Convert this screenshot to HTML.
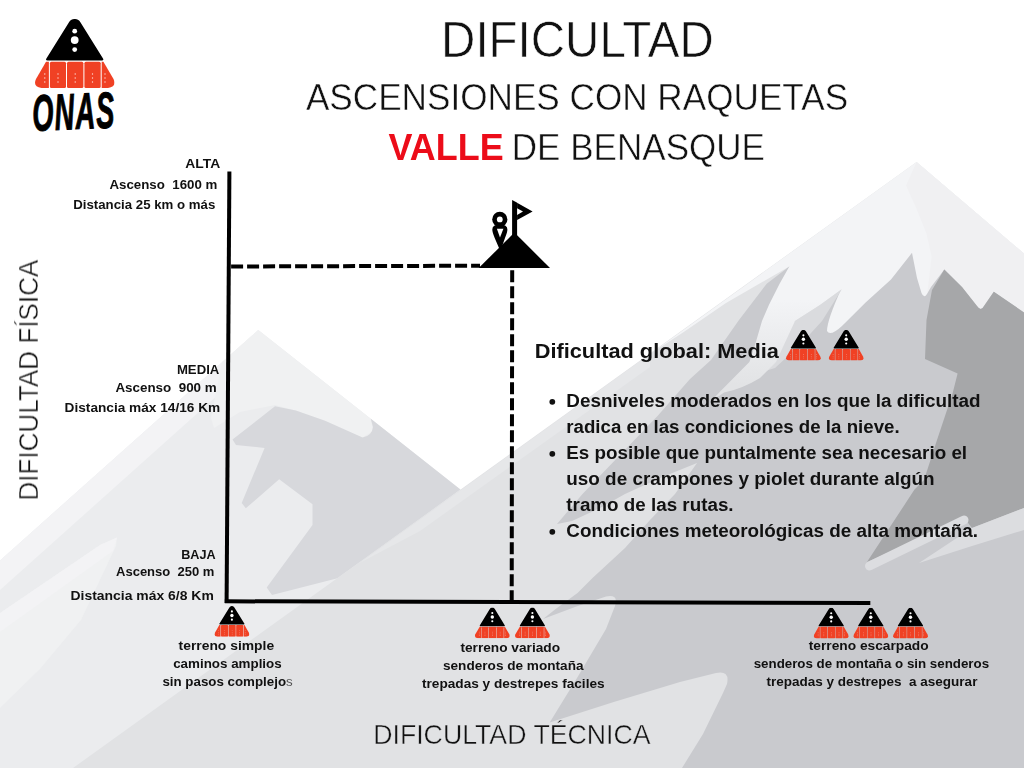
<!DOCTYPE html>
<html lang="es"><head><meta charset="utf-8"><title>Dificultad - Ascensiones con raquetas - Valle de Benasque</title>
<style>
html,body{margin:0;padding:0;background:#fff;}
body{width:1024px;height:768px;overflow:hidden;position:relative;font-family:"Liberation Sans",sans-serif;}
svg{position:absolute;left:0;top:0;display:block}
svg text{font-family:"Liberation Sans",sans-serif;}
</style></head><body>
<svg width="1024" height="768" viewBox="0 0 1024 768">
<defs>
<symbol id="ic" viewBox="34.8 19 79.8 68.9" preserveAspectRatio="none">
  <path d="M69 22.2 A6.66 6.66 0 0 1 80.4 22.2 L103 58.4 Q104.2 60.6 101.8 60.6 L47.6 60.6 Q45.2 60.6 46.4 58.4 Z" fill="#000"/>
  <circle cx="74.7" cy="31.2" r="2.4" fill="#fff"/><circle cx="74.7" cy="40.1" r="3.9" fill="#fff"/><circle cx="74.7" cy="49.6" r="2.4" fill="#fff"/>
  <path d="M46 61.8 L48.9 61.8 L48.9 87.9 L41.5 87.9 Q32.5 86.5 36 79 Z" fill="#f04124"/>
  <rect x="49.9" y="61.8" width="16.1" height="26.1" rx="1.5" fill="#f04124"/>
  <rect x="67" y="61.8" width="16.4" height="26.1" rx="1.5" fill="#f04124"/>
  <rect x="84.4" y="61.8" width="16.3" height="26.1" rx="1.5" fill="#f04124"/>
  <path d="M103.4 61.8 L101.7 61.8 L101.7 87.9 L108 87.9 Q117 86.5 113.5 79 Z" fill="#f04124"/>
  <g fill="#fff" opacity=".8">
   <circle cx="44.8" cy="74" r=".7"/><circle cx="44.8" cy="78" r=".7"/><circle cx="44.8" cy="82" r=".7"/>
   <circle cx="58" cy="74" r=".7"/><circle cx="58" cy="78" r=".7"/><circle cx="58" cy="82" r=".7"/>
   <circle cx="75.2" cy="74" r=".7"/><circle cx="75.2" cy="78" r=".7"/><circle cx="75.2" cy="82" r=".7"/>
   <circle cx="92.5" cy="74" r=".7"/><circle cx="92.5" cy="78" r=".7"/><circle cx="92.5" cy="82" r=".7"/>
   <circle cx="105" cy="74" r=".7"/><circle cx="105" cy="78" r=".7"/><circle cx="105" cy="82" r=".7"/>
  </g>
</symbol></defs>
<!-- background mountains -->
<g id="bg">
<!-- left mountain -->
<polygon points="258.3,330 0,560.4 0,768 500,768 500,521 460.4,489.6" fill="#ebecee"/>
<polygon points="258.3,330 0,560.4 0,590 248,368 262,347" fill="#f3f3f5"/>
<polygon points="258.3,330 370.8,418.7 373,431 362.5,437.5 325,420.8 295.8,410.4 275,405 240,412 214,428 211,418 222,362" fill="#f0f1f2"/>
<path d="M275,406.3 L295.8,410.4 L325,420.8 L362.5,437.5 Q372,436 373,427 L370.8,418.75 L460.4,489.6 L337.5,578.3 L272,595 L266.7,587.5 L312.5,525 L312.5,504.2 L279.2,479.2 L245.8,508.3 L241.7,503 L264.6,447.9 L236,445 L232.5,439.6 Z" fill="#d7d8dc"/>
<polygon points="0,613 100,545 117,537.5 116,546 81,620 40,669 0,708" fill="#f0f1f2"/>
<polygon points="0,613 100,545 117,537.5 113,551 0,632" fill="#f3f3f5"/>
<!-- big mountain: light base -->
<polygon points="916.6,162 1024,253.5 1024,768 73,768" fill="#e1e2e4"/>
<polygon points="650,354 360,562.8 420,531 650,367" fill="#e6e7e9"/>
<!-- snow cap + highlight along slope -->
<path d="M916.6,162 L1024,253.5 L1024,340 L815,350 L789.3,266.5 L726,303 L683,332.5 L650,354 Z" fill="#f3f4f6"/>
<path d="M916.6,162 L906,185.5 L916.4,208.4 L926.5,233.8 L931.6,256.7 L926.5,300 L1024,330 L1024,253.5 Z" fill="#f0f0f2"/>
<!-- main grey body -->
<path d="M789.3,266.5 L766.7,283.7 L738.8,320.2 L711,360 L690,379 L657.5,416 L632.5,442 L607.5,468 L582.5,494 L557,524
 L572,521 L600,508 L625,494 L660,478 L697,463 L675,494 L650,520 L625,548 L592.5,578 L577.5,593 L557,608 L543,619
 L575,607 L600,598.5 L606,596.5 Q619,594 615,606 L606,629 L577,678 L549.7,722.5 L613.75,702 L680,682 L716,673 Q730,670 727,684 L723,693 L703,734 L682,768
 L1024,768 L1024,312.5 L993.8,291.7 L984,306 Q981,312 977,306 L962,287 L944.3,269.4 L931,287 L927,294 Q924,299 921.5,293 L917,278 L912,252.8 L891,279.5 L865.6,302.4 L842,326 Q830,337 827,331 Q827,320 841.5,288.4 Z" fill="#c9cace"/>
<!-- lighter band right of finger 1 -->
<path d="M842,289 L822,321 L800,345 L775,368 L756,374 L773,350 L795,321 L820,305 Z" fill="#dadbde"/>
<!-- finger 1 (bright) -->
<linearGradient id="gf1" gradientUnits="userSpaceOnUse" x1="0" y1="300" x2="0" y2="385"><stop offset="0" stop-color="#f3f4f6"/><stop offset="1" stop-color="#e2e3e5"/></linearGradient>
<path d="M789.3,266.5 L779.6,283.7 L768.9,305 L762,321 L755,345 L749.4,362 L719.7,392 Q715,397 713,399 Q720,396 724,392.5 Q742,389 760,378 L776,362 L795,321 L820,305 L842,289 L847,284 L792,260 Z" fill="url(#gf1)"/>
<!-- dark -->
<path d="M944.3,269.4 L962,287 L977,306 Q981,312 984,306 L993.8,291.7 L1024,312.5 L1024,508 L972,528 L965,519 L867,562 L914.5,489.6 L924,480 L937,440 L952.7,393 L957.6,373.6 L925,359 L926.5,320 L932,290 Z" fill="#a6a7a9"/>
<!-- light strokes right -->
<line x1="869.5" y1="566" x2="964" y2="520" stroke="#dcdde0" stroke-width="9" stroke-linecap="round"/>
<path d="M919,563 L972,528 L1024,508 L1024,530 L972,546 Z" fill="#dcdde0"/>
</g>

<!-- axes -->
<g stroke="#000" stroke-width="4" fill="none">
<line x1="229.4" y1="171.5" x2="226.6" y2="603"/>
<line x1="224.8" y1="601.3" x2="870.3" y2="602.9"/>
<line x1="231.1" y1="266.5" x2="480" y2="265.7" stroke-dasharray="12 4"/>
<line x1="512.2" y1="270.3" x2="511.7" y2="601" stroke-dasharray="12 4"/>
</g>
<!-- summit icon -->
<g fill="#000">
<polygon points="478.7,268 550,268 514.4,232.6"/>
<polygon points="512.1,200 517.1,202.8 517.1,237 512.1,237"/>
<path d="M512.1 200 L532.6 211.4 L517.1 220 L517.1 214.9 L523 211.5 L517.1 208.2 L517.1 203 Z"/>
<circle cx="499.8" cy="219.4" r="7.6"/>
<path d="M492.3 229.5 Q492.3 224.5 499.8 224.5 Q507.4 224.5 507.4 229.5 Q507.4 232 505 238 L501.5 248 L499 248 L494.7 238 Q492.3 232 492.3 229.5 Z"/>
</g>
<circle cx="499.8" cy="219.4" r="2.9" fill="#fff"/>
<polygon points="496.9,228.7 503.4,228.7 500,237.5" fill="#fff"/>
<!-- icons -->
<use href="#ic" x="34.8" y="19" width="79.8" height="68.9"/>
<use href="#ic" x="214.4" y="606" width="35" height="30.7"/>
<use href="#ic" x="474.8" y="607.6" width="35" height="30.7"/>
<use href="#ic" x="514.9" y="607.6" width="35" height="30.7"/>
<use href="#ic" x="813.7" y="607.8" width="35" height="30.7"/>
<use href="#ic" x="853.3" y="607.8" width="35" height="30.7"/>
<use href="#ic" x="893.0" y="607.8" width="35" height="30.7"/>
<use href="#ic" x="785.9" y="329.9" width="35" height="30.7"/>
<use href="#ic" x="828.7" y="329.9" width="35" height="30.7"/>
<!-- logo text -->
<text opacity=".999" transform="translate(33 131) rotate(-2.5) scale(0.8 1.5)" x="0" y="0" font-size="34" font-weight="700" fill="#000" stroke="#000" stroke-width=".7" textLength="102.5" lengthAdjust="spacing" font-style="italic">ONAS</text>
<!-- bullets -->
<circle cx="552.3" cy="401.8" r="2.9" fill="#111"/><circle cx="552.3" cy="453.8" r="2.9" fill="#111"/><circle cx="552.3" cy="531.8" r="2.9" fill="#111"/>
<!-- text -->
<g opacity=".999">
<text x="441.1" y="57.4" font-size="49.27" font-weight="400" fill="#111" textLength="272.7" lengthAdjust="spacingAndGlyphs" stroke="#fff" stroke-width="0.6" paint-order="fill" stroke-linejoin="round">DIFICULTAD</text>
<text x="305.9" y="110.3" font-size="37.35" font-weight="400" fill="#111" textLength="542.2" lengthAdjust="spacingAndGlyphs" stroke="#fff" stroke-width="0.5" paint-order="fill" stroke-linejoin="round">ASCENSIONES CON RAQUETAS</text>
<text x="388.6" y="159.5" font-size="36.48" font-weight="700" fill="#ec0c19" textLength="115.0" lengthAdjust="spacingAndGlyphs">VALLE</text>
<text x="511.8" y="159.9" font-size="36.77" font-weight="400" fill="#111" textLength="253.2" lengthAdjust="spacingAndGlyphs" stroke="#fff" stroke-width="0.5" paint-order="fill" stroke-linejoin="round">DE BENASQUE</text>
<text x="185.3" y="168" font-size="13.23" font-weight="700" fill="#111" textLength="34.9" lengthAdjust="spacingAndGlyphs">ALTA</text>
<text x="109.5" y="188.9" font-size="13.23" font-weight="700" fill="#111" textLength="107.8" lengthAdjust="spacingAndGlyphs">Ascenso  1600 m</text>
<text x="73.2" y="209" font-size="13.23" font-weight="700" fill="#111" textLength="142.1" lengthAdjust="spacingAndGlyphs">Distancia 25 km o más</text>
<text x="176.9" y="373.8" font-size="13.23" font-weight="700" fill="#111" textLength="42.4" lengthAdjust="spacingAndGlyphs">MEDIA</text>
<text x="115.4" y="392" font-size="13.23" font-weight="700" fill="#111" textLength="101.3" lengthAdjust="spacingAndGlyphs">Ascenso  900 m</text>
<text x="64.6" y="412.1" font-size="13.23" font-weight="700" fill="#111" textLength="155.6" lengthAdjust="spacingAndGlyphs">Distancia máx 14/16 Km</text>
<text x="181.2" y="558.9" font-size="13.23" font-weight="700" fill="#111" textLength="34.5" lengthAdjust="spacingAndGlyphs">BAJA</text>
<text x="116.0" y="576.3" font-size="13.23" font-weight="700" fill="#111" textLength="98.4" lengthAdjust="spacingAndGlyphs">Ascenso  250 m</text>
<text x="70.5" y="599.9" font-size="13.23" font-weight="700" fill="#111" textLength="143.3" lengthAdjust="spacingAndGlyphs">Distancia máx 6/8 Km</text>
<text x="178.6" y="649.7" font-size="13.23" font-weight="700" fill="#111" textLength="95.5" lengthAdjust="spacingAndGlyphs">terreno simple</text>
<text x="173.2" y="667.7" font-size="13.23" font-weight="700" fill="#111" textLength="108.5" lengthAdjust="spacingAndGlyphs">caminos amplios</text>
<text x="162.4" y="685.8" font-size="13.23" font-weight="700" fill="#111" textLength="130.3" lengthAdjust="spacingAndGlyphs">sin pasos complejo<tspan font-weight="400" fill="#555">s</tspan></text>
<text x="460.4" y="651.7" font-size="13.23" font-weight="700" fill="#111" textLength="99.7" lengthAdjust="spacingAndGlyphs">terreno variado</text>
<text x="443.0" y="669.6" font-size="13.23" font-weight="700" fill="#111" textLength="140.5" lengthAdjust="spacingAndGlyphs">senderos de montaña</text>
<text x="422.0" y="687.6" font-size="13.23" font-weight="700" fill="#111" textLength="182.6" lengthAdjust="spacingAndGlyphs">trepadas y destrepes faciles</text>
<text x="808.8" y="649.7" font-size="13.23" font-weight="700" fill="#111" textLength="119.8" lengthAdjust="spacingAndGlyphs">terreno escarpado</text>
<text x="753.7" y="667.5" font-size="13.23" font-weight="700" fill="#111" textLength="235.4" lengthAdjust="spacingAndGlyphs">senderos de montaña o sin senderos</text>
<text x="766.4" y="685.8" font-size="13.23" font-weight="700" fill="#111" textLength="211.0" lengthAdjust="spacingAndGlyphs">trepadas y destrepes  a asegurar</text>
<text x="534.7" y="357.9" font-size="21.08" font-weight="700" fill="#111" textLength="244.2" lengthAdjust="spacingAndGlyphs">Dificultad global: Media</text>
<text x="566.3" y="406.5" font-size="18.75" font-weight="700" fill="#111" textLength="414.3" lengthAdjust="spacingAndGlyphs">Desniveles moderados en los que la dificultad</text>
<text x="566.3" y="432.5" font-size="18.75" font-weight="700" fill="#111" textLength="333.3" lengthAdjust="spacingAndGlyphs">radica en las condiciones de la nieve.</text>
<text x="566.3" y="458.5" font-size="18.75" font-weight="700" fill="#111" textLength="400.8" lengthAdjust="spacingAndGlyphs">Es posible que puntalmente sea necesario el</text>
<text x="566.3" y="484.5" font-size="18.75" font-weight="700" fill="#111" textLength="368.3" lengthAdjust="spacingAndGlyphs">uso de crampones y piolet durante algún</text>
<text x="566.3" y="510.5" font-size="18.75" font-weight="700" fill="#111" textLength="167.3" lengthAdjust="spacingAndGlyphs">tramo de las rutas.</text>
<text x="566.3" y="536.5" font-size="18.75" font-weight="700" fill="#111" textLength="411.8" lengthAdjust="spacingAndGlyphs">Condiciones meteorológicas de alta montaña.</text>
<text x="373.2" y="744.1" font-size="27.91" font-weight="400" fill="#111" textLength="277.4" lengthAdjust="spacingAndGlyphs" stroke="#e1e2e4" stroke-width="0.45" paint-order="fill" stroke-linejoin="round">DIFICULTAD TÉCNICA</text>
<text transform="translate(38 500.6) rotate(-90)" x="0" y="0" font-size="27.76" fill="#111" stroke="#fff" stroke-width="0.45" paint-order="fill" stroke-linejoin="round" textLength="241" lengthAdjust="spacingAndGlyphs">DIFICULTAD FÍSICA</text>
</g>
</svg>
</body></html>
